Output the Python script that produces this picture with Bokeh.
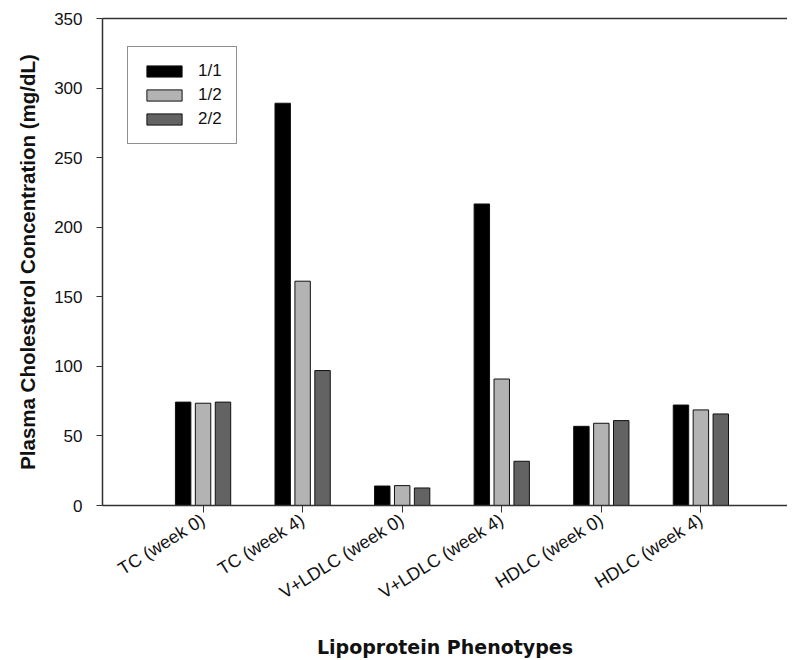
from bokeh.plotting import figure
from bokeh.models import Range1d, FixedTicker, LinearAxis, Legend, LegendItem, ColumnDataSource
from bokeh.embed import file_html
from bokeh.resources import INLINE
import math

categories = ["TC (week 0)", "TC (week 4)", "V+LDLC (week 0)", "V+LDLC (week 4)", "HDLC (week 0)", "HDLC (week 4)"]
series_names = ["1/1", "1/2", "2/2"]
vals_11 = [74.3, 289.1, 14.0, 216.7, 56.9, 72.2]
vals_12 = [73.5, 161.2, 14.3, 90.9, 59.1, 68.7]
vals_22 = [74.3, 97.0, 12.6, 31.8, 61.0, 65.8]
colors = ["#000000", "#b3b3b3", "#636363"]
y_ticks = [0, 50, 100, 150, 200, 250, 300, 350]

FONT = "Liberation Sans"

p = figure(width=787, height=652, frame_width=685, frame_height=487,
           output_backend="svg", toolbar_location=None,
           x_range=Range1d(-0.01, 6.87), y_range=Range1d(0, 350),
           min_border_left=102, min_border_top=18, min_border_bottom=10, min_border_right=0)
p.xgrid.visible = False
p.ygrid.visible = False
p.outline_line_color = None

positions = list(range(1, len(categories) + 1))
offsets = [-0.2, 0.0, 0.2]
renderers = []
for vals, off, col in zip([vals_11, vals_12, vals_22], offsets, colors):
    src = ColumnDataSource(dict(x=[pp + off for pp in positions], top=vals))
    r = p.vbar(x="x", top="top", width=0.155, bottom=0, source=src,
               fill_color=col, line_color="#111111", line_width=1)
    renderers.append(r)

legend = Legend(items=[LegendItem(label=n, renderers=[r]) for n, r in zip(series_names, renderers)],
                location=(25, 361), orientation="vertical",
                glyph_width=44, glyph_height=14, label_height=14, spacing=4,
                label_standoff=12, padding=14, margin=0,
                border_line_color="#222222", border_line_width=1,
                label_text_font=FONT, label_text_font_size="17px", label_text_color="#111111",
                background_fill_alpha=1)
p.add_layout(legend, "center")

# x axis
xa = p.xaxis[0]
xa.ticker = FixedTicker(ticks=positions)
xa.major_label_overrides = {pp: c for pp, c in zip(positions, categories)}
xa.major_label_orientation = math.radians(32)
xa.major_label_text_font = FONT
xa.major_label_text_font_size = "18px"
xa.major_label_text_color = "#111111"
xa.major_tick_out = 7
xa.major_tick_in = 0
xa.minor_tick_out = 0
xa.minor_tick_in = 0
xa.axis_line_color = "#333333"
xa.axis_line_width = 1.5
xa.major_tick_line_color = "#333333"
xa.major_label_standoff = 6
xa.axis_label = "Lipoprotein Phenotypes"
xa.axis_label_text_font = "DejaVu Sans"
xa.axis_label_text_font_style = "bold"
xa.axis_label_text_font_size = "19px"
xa.axis_label_text_color = "#111111"
xa.axis_label_standoff = 22

# y axis
ya = p.yaxis[0]
ya.ticker = FixedTicker(ticks=y_ticks)
ya.major_label_text_font = FONT
ya.major_label_text_font_size = "17px"
ya.major_label_text_color = "#111111"
ya.major_tick_out = 6
ya.major_tick_in = 0
ya.minor_tick_out = 0
ya.minor_tick_in = 0
ya.axis_line_color = "#333333"
ya.axis_line_width = 1.5
ya.major_tick_line_color = "#333333"
ya.major_label_standoff = 14
ya.axis_label = "Plasma Cholesterol Concentration (mg/dL)"
ya.axis_label_text_font = FONT
ya.axis_label_text_font_style = "bold"
ya.axis_label_text_font_size = "20.5px"
ya.axis_label_text_color = "#111111"
ya.axis_label_standoff = 12

# top border line
top_axis = LinearAxis(ticker=FixedTicker(ticks=[]), major_label_text_font_size="0px",
                      major_tick_out=0, minor_tick_out=0, axis_line_color="#333333", axis_line_width=1.5)
p.add_layout(top_axis, "above")

open("out.html", "w").write(file_html(p, INLINE))
